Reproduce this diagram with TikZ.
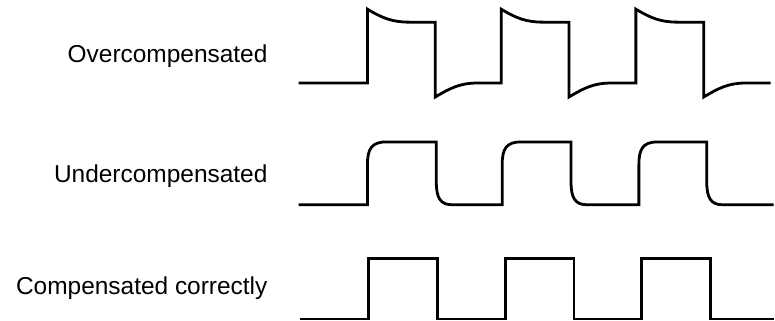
\documentclass[tikz,border=0pt]{standalone}
\usepackage{fontspec}
\setmainfont{Liberation Sans}

\begin{document}
\begin{tikzpicture}[scale=1.000000,x=1pt,y=1pt]
\filldraw[color=white] (0.000000, 0.000000) rectangle (775.000000, 321.000000);
\tikzset{wave/.style={color=black,line width=2.800000pt},
  tracelabel/.style={anchor=base east,inner sep=0pt,font=\fontsize{24.5}{29}\selectfont}}
% Drawing labels
\draw[color=black] (268.000000,259.000000) node[tracelabel] (over) {Overcompensated};
\draw[color=black] (268.000000,138.000000) node[tracelabel] (under) {Undercompensated};
\draw[color=black] (268.000000,26.000000) node[tracelabel] (correct) {Compensated correctly};
% Done with labels; drawing traces
% Trace 1: overshoot at every edge
\draw[wave] (299.000000,238.000000) -- (368.000000,238.000000) -- (368.000000,312.000000)
  .. controls (383.000000,303.000000) and (393.000000,299.000000) .. (410.000000,299.000000)
  -- (436.000000,299.000000) -- (436.000000,224.000000)
  .. controls (451.000000,233.000000) and (461.000000,238.000000) .. (478.000000,238.000000)
  -- (502.000000,238.000000) -- (502.000000,312.000000)
  .. controls (517.000000,303.000000) and (527.000000,299.000000) .. (544.000000,299.000000)
  -- (570.000000,299.000000) -- (570.000000,224.000000)
  .. controls (585.000000,233.000000) and (595.000000,238.000000) .. (612.000000,238.000000)
  -- (637.000000,238.000000) -- (637.000000,312.000000)
  .. controls (652.000000,303.000000) and (662.000000,299.000000) .. (679.000000,299.000000)
  -- (705.000000,299.000000) -- (705.000000,224.000000)
  .. controls (720.000000,233.000000) and (730.000000,238.000000) .. (747.000000,238.000000)
  -- (772.000000,238.000000);
% Trace 2: rounded edges
\draw[wave] (299.000000,116.000000) -- (368.000000,116.000000) -- (368.000000,156.000000)
  .. controls (368.000000,172.000000) and (372.000000,179.000000) .. (387.000000,179.000000)
  -- (437.000000,179.000000) -- (437.000000,139.000000)
  .. controls (437.000000,123.000000) and (441.000000,116.000000) .. (453.000000,116.000000)
  -- (503.000000,116.000000) -- (503.000000,156.000000)
  .. controls (503.000000,172.000000) and (507.000000,179.000000) .. (522.000000,179.000000)
  -- (572.000000,179.000000) -- (572.000000,139.000000)
  .. controls (572.000000,123.000000) and (576.000000,116.000000) .. (588.000000,116.000000)
  -- (640.000000,116.000000) -- (640.000000,156.000000)
  .. controls (640.000000,172.000000) and (644.000000,179.000000) .. (659.000000,179.000000)
  -- (708.000000,179.000000) -- (708.000000,139.000000)
  .. controls (708.000000,123.000000) and (712.000000,116.000000) .. (724.000000,116.000000)
  -- (775.000000,116.000000);
% Trace 3: square edges
\draw[wave] (300.000000,1.500000) -- (369.000000,1.500000) -- (369.000000,62.000000)
  -- (438.000000,62.000000) -- (438.000000,1.500000) -- (506.000000,1.500000)
  -- (506.000000,62.000000) -- (575.000000,62.000000) -- (575.000000,1.500000)
  -- (643.000000,1.500000) -- (643.000000,62.000000) -- (712.000000,62.000000)
  -- (712.000000,1.500000) -- (775.000000,1.500000);
% Done with traces
\useasboundingbox (0.000000,0.000000) rectangle (775.000000,321.000000);
\end{tikzpicture}
\end{document}
